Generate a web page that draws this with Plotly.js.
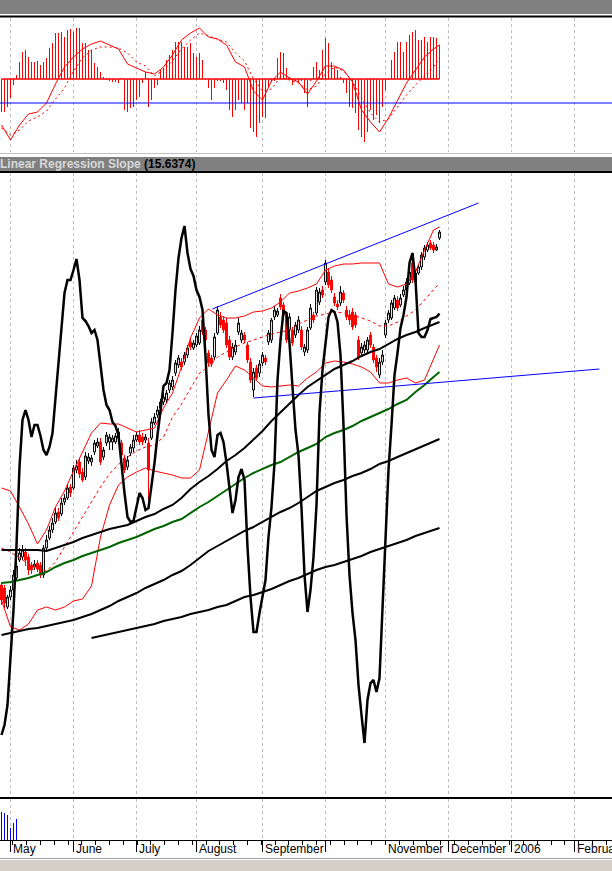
<!DOCTYPE html>
<html>
<head>
<meta charset="utf-8">
<script src="https://cdn.plot.ly/plotly-3.0.1.min.js"></script>
<style>
html,body{margin:0;padding:0;background:#fff;}
#chart{width:612px;height:871px;}
</style>
</head>
<body>
<div id="chart"></div>
<script>
// ---------------- DATA ----------------
// Month starts (bar index) and their axis labels
const monthStarts = [3, 24, 45, 65, 87, 108, 128, 149, 170, 191];
const monthLabels = ['May', 'June', 'July', 'August', 'September', '', 'November', 'December', '2006', 'February'];

// Daily candles (price units)
const open = [415,412,393,403,410,422,440,443,448,443,435,433,437,435,425,452,462,470,478,488,486,498,502,513,512,530,538,528,523,539,538,548,554,558,543,557,558,558,558,562,557,542,533,547,552,560,565,563,560,557,562,577,585,592,598,600,610,613,627,635,638,638,645,658,652,655,657,680,670,647,642,643,667,683,680,677,660,643,648,668,660,665,655,638,610,632,627,637,642,658,660,683,685,702,695,685,670,670,665,670,670,648,650,672,685,687,698,710,718,728,720,703,696,697,707,690,685,688,685,660,647,650,650,665,653,642,625,638,665,680,682,692,700,695,705,710,717,737,718,727,733,743,750,757,755,750,762];
const high = [418,415,405,414,430,440,452,455,452,446,438,440,440,438,455,465,474,482,492,492,502,506,516,516,535,540,542,532,548,547,545,560,562,562,553,568,566,565,567,572,560,545,544,556,565,568,570,567,566,562,582,587,594,601,607,610,620,624,640,645,642,648,655,662,660,667,674,684,673,650,645,667,694,688,684,682,664,657,660,682,670,668,658,642,632,635,640,648,645,670,682,694,692,706,698,688,687,673,678,684,674,656,673,696,688,713,712,714,740,732,724,707,700,714,710,694,690,692,688,664,657,659,663,668,656,645,642,650,680,690,700,705,704,706,714,722,732,742,730,736,748,755,758,760,758,756,770];
const low = [395,392,391,400,408,420,438,440,434,425,426,430,428,422,422,448,460,467,476,479,484,495,500,503,510,527,522,518,520,536,534,545,552,535,540,554,550,550,556,560,542,527,530,544,548,558,555,555,557,500,560,575,582,590,595,597,607,610,624,632,630,635,642,650,650,653,655,665,655,634,633,640,665,672,667,652,640,640,645,665,657,657,637,617,603,620,623,634,635,655,657,680,683,690,682,657,667,654,662,667,650,644,647,670,677,685,695,702,715,712,707,694,690,694,697,680,675,670,672,640,644,647,647,652,637,628,622,635,662,677,680,690,689,693,703,708,715,717,715,725,730,740,748,750,747,749,760];
const close = [400,397,403,410,425,434,447,450,440,430,430,436,431,425,452,460,470,477,487,482,497,502,512,507,532,534,526,520,544,543,542,557,558,538,550,565,563,562,564,568,545,530,540,553,560,565,558,558,563,530,578,583,590,598,603,607,617,620,637,642,633,645,652,653,657,664,670,668,660,637,636,663,690,675,670,655,643,653,655,677,667,660,640,620,628,622,636,645,638,667,680,690,689,693,685,660,683,657,675,680,653,653,670,692,680,710,708,705,737,715,710,697,693,708,700,683,680,673,675,642,653,655,660,655,640,633,638,645,677,687,697,702,692,702,710,718,728,720,727,733,745,752,755,752,750,753,768];

// Linear Regression Slope, one value per bar
const lrSlope = [-26.5,-25.5,-23.5,-18.5,-14.0,-7.5,0.3,5.0,6.0,5.0,3.3,4.5,4.5,3.4,2.0,1.5,2.3,3.7,7.0,11.0,14.3,17.7,19.0,19.0,20.0,21.1,19.0,15.2,14.9,14.4,13.7,14.0,13.0,10.5,8.0,6.5,6.0,4.8,4.4,3.5,0.3,-2.3,-4.7,-5.2,-5.1,-3.7,-2.3,-2.8,-4.0,-3.8,-1.7,0.7,3.5,5.8,8.4,8.7,10.0,13.7,18.0,21.2,23.2,24.4,21.7,20.1,19.4,18.0,17.3,16.0,11.4,5.5,2.0,1.3,3.5,3.7,2.8,0.7,-2.0,-4.3,-3.0,-0.7,0.1,-1.0,-7.7,-12.7,-16.2,-16.2,-14.3,-12.8,-11.0,-6.7,-3.7,0.7,9.0,13.0,15.9,15.7,12.7,8.3,4.0,1.5,-3.8,-10.5,-14.2,-12.0,-8.7,-3.5,5.7,10.0,13.0,15.3,16.0,15.8,14.8,11.5,4.5,-4.5,-10.5,-14.3,-17.0,-21.5,-24.5,-27.3,-23.0,-21.3,-21.0,-22.2,-20.8,-14.3,-7.7,0.0,4.5,9.5,11.7,14.2,15.5,17.3,20.7,21.7,19.0,13.7,13.3,13.3,14.0,15.1,15.2,15.3,15.6374];

// MACD histogram, one value per bar
const macdHist = [-3.3,-3.3,-2.8,-1.9,-0.6,0.4,1.7,2.7,2.9,2.2,1.7,1.7,1.8,1.4,1.7,2.1,3.1,3.6,4.6,4.6,4.7,4.2,4.9,5.0,4.7,5.1,5.1,3.6,3.6,2.9,2.9,1.6,1.2,0.7,0.2,-0.1,-0.2,-0.3,-0.3,-0.4,0.1,-3.1,-3.3,-2.9,-2.8,-2.1,-1.8,-0.4,0.7,-2.8,-2.1,-0.9,-0.6,0.9,1.1,1.9,2.4,2.9,3.7,3.7,3.7,3.2,3.2,3.6,2.6,2.2,2.6,1.9,-0.1,-0.9,-2.1,-0.9,-0.2,-0.2,-0.4,-1.1,-3.1,-3.8,-3.1,-2.1,-2.4,-3.1,-2.4,-4.9,-5.3,-5.8,-4.4,-3.8,-3.9,-0.8,-0.3,-0.2,2.1,2.7,2.6,1.1,0.2,-0.6,-0.2,-0.4,-0.2,-1.4,-2.8,-0.2,1.2,1.7,0.9,2.9,4.1,3.6,1.7,1.2,0.9,0.2,-0.4,-1.4,-2.8,-2.9,-3.4,-5.1,-5.8,-6.3,-5.3,-3.1,-4.1,-3.6,-4.4,-2.8,-1.1,-0.1,1.9,2.7,3.7,3.7,2.7,3.7,4.4,4.7,4.9,3.9,3.9,4.2,3.7,4.2,4.2,4.1,3.4];
const macdLevel = -2.4;

// Volume (only the first bars carry volume)
const volume = [28, 27, 25, 12, 17, 21];

// Smooth lines sampled every third bar
const lineBars = [0,3,6,9,12,15,18,21,24,27,30,33,36,39,42,45,48,51,54,57,60,63,66,69,72,75,78,81,84,87,90,93,96,99,102,105,108,111,114,117,120,123,126,129,132,135,138,141,144,146];
const macdMain = [-4.6,-6.1,-4.6,-3.5,-3.3,-2.4,-0.5,1.2,2.2,3.0,3.5,3.8,3.4,3.0,1.5,1.1,0.7,0.5,1.2,2.4,3.9,4.6,5.1,4.2,4.0,3.4,1.7,1.2,-1.2,-2.1,-0.2,0.7,0.1,-0.3,-1.5,-0.2,1.3,1.3,0.9,-0.3,-3.1,-4.3,-5.3,-3.9,-2.1,-0.4,0.9,2.2,3.0,3.4];
const macdSignal = [-4.9,-5.6,-5.1,-4.2,-3.8,-3.2,-2.0,-0.9,0.8,2.1,2.9,3.2,3.2,3.1,2.6,1.7,1.3,0.3,0.9,1.8,3.0,3.9,4.6,4.3,4.0,3.7,2.6,1.8,0.0,-1.2,-1.0,0.2,-0.1,-0.4,-1.1,-0.7,0.5,1.2,0.8,-0.2,-1.9,-3.4,-4.3,-4.0,-2.8,-1.6,-0.6,0.3,1.2,2.1];
const bbUpper = [512,509,493,476,456,470,493,509,529,548,567,577,576,576,572,568,570,572,592,607,633,662,682,691,685,682,682,684,688,689,692,698,707,709,712,716,730,734,736,736,737,737,737,716,713,716,728,750,770,773];
const bbMiddle = [452,448,442,436,431,429,438,453,468,483,498,513,526,536,543,549,553,555,563,583,596,611,627,633,643,648,653,657,660,663,666,668,670,676,680,684,686,688,687,685,682,679,674,674,678,684,690,700,710,717];
const bbLower = [400,373,370,376,390,393,390,393,399,401,414,463,495,515,523,528,532,529,527,525,522,522,530,570,607,620,634,630,622,614,613,614,615,614,622,628,637,639,638,636,633,628,617,617,620,622,617,620,642,655];
const maFast = [450,450,450,450,450,449,452,455,458,462,465,468,471,473,475,479,483,486,491,495,502,511,518,524,531,539,545,552,560,569,579,588,597,605,613,619,625,631,635,639,644,648,651,656,661,665,668,672,676,678];
const maGreen = [417,418,420,422,425,428,433,437,440,444,447,450,453,457,460,463,467,471,474,478,481,487,493,498,504,510,516,522,527,531,535,538,543,548,552,556,563,567,570,574,579,583,587,591,596,600,608,615,623,628];
const maSlow = [365,367,369,371,372,374,376,378,380,383,386,390,394,399,403,407,412,416,420,425,429,435,442,449,454,459,464,469,473,478,483,488,492,497,503,509,513,517,520,524,527,531,536,539,543,547,551,555,559,561];
const maSlowest = [null,null,null,null,null,null,null,null,null,null,362,364,366,368,370,372,374,376,379,381,383,386,388,390,393,395,399,403,405,408,411,415,419,422,426,430,433,435,438,441,444,448,451,454,457,460,464,467,470,472];

// Hand-drawn trend lines [bar, price]
const upperTrendX = [70.3, 159], upperTrendY = [691, 797];
const lowerTrendX = [84, 199.3], lowerTrendY = [602, 631];

// ---------------- CHART ----------------
const H = 871;
const py = p => 1 - p / H;            // pixel row -> paper fraction
const bars = close.map((_, i) => i);
const FONT = 'Liberation Sans, Arial, sans-serif';

// histogram-style stems (base -> value) drawn as one line trace with breaks
function stems(xs, ys) {
  const sx = [], sy = [];
  ys.forEach((v, i) => { sx.push(xs[i], xs[i], null); sy.push(0, v, null); });
  return {x: sx, y: sy};
}
const histStems = stems(bars, macdHist);
const volStems = stems(bars, volume);

const traces = [
  // MACD panel
  {type:'scatter', mode:'lines', x:histStems.x, y:histStems.y, xaxis:'x', yaxis:'y', line:{color:'#ff0000', width:1}, connectgaps:false},
  {type:'scatter', mode:'lines', x:[bars[0], bars[bars.length-1]], y:[0,0], xaxis:'x', yaxis:'y', line:{color:'#ff0000', width:1.5}},
  {type:'scatter', mode:'lines', x:lineBars, y:macdMain, xaxis:'x', yaxis:'y', line:{color:'#ff0000', width:1}},
  {type:'scatter', mode:'lines', x:lineBars, y:macdSignal, xaxis:'x', yaxis:'y', line:{color:'#ff0000', width:1, dash:'2px,3px'}},
  // main panel: bands
  {type:'scatter', mode:'lines', x:lineBars, y:bbUpper, xaxis:'x', yaxis:'y2', line:{color:'#ff0000', width:1}},
  {type:'scatter', mode:'lines', x:lineBars, y:bbMiddle, xaxis:'x', yaxis:'y2', line:{color:'#ff0000', width:1, dash:'3px,3px'}},
  {type:'scatter', mode:'lines', x:lineBars, y:bbLower, xaxis:'x', yaxis:'y2', line:{color:'#ff0000', width:1}},
  // candles
  {type:'candlestick', x:bars, open:open, high:high, low:low, close:close, xaxis:'x', yaxis:'y2',
   increasing:{line:{color:'#000000', width:1}, fillcolor:'#ffffff'},
   decreasing:{line:{color:'#ff0000', width:1}, fillcolor:'#ff0000'}, whiskerwidth:0},
  // moving averages
  {type:'scatter', mode:'lines', x:lineBars, y:maSlowest, xaxis:'x', yaxis:'y2', line:{color:'#000000', width:2}},
  {type:'scatter', mode:'lines', x:lineBars, y:maSlow, xaxis:'x', yaxis:'y2', line:{color:'#000000', width:2}},
  {type:'scatter', mode:'lines', x:lineBars, y:maGreen, xaxis:'x', yaxis:'y2', line:{color:'#006400', width:2}},
  {type:'scatter', mode:'lines', x:lineBars, y:maFast, xaxis:'x', yaxis:'y2', line:{color:'#000000', width:2}},
  // trend lines
  {type:'scatter', mode:'lines', x:upperTrendX, y:upperTrendY, xaxis:'x', yaxis:'y2', line:{color:'#0000ff', width:1}},
  {type:'scatter', mode:'lines', x:lowerTrendX, y:lowerTrendY, xaxis:'x', yaxis:'y2', line:{color:'#0000ff', width:1}},
  // linear regression slope
  {type:'scatter', mode:'lines', x:bars, y:lrSlope, xaxis:'x', yaxis:'y3', line:{color:'#000000', width:2.5}},
  // volume
  {type:'scatter', mode:'lines', x:volStems.x, y:volStems.y, xaxis:'x', yaxis:'y4', line:{color:'#0000ff', width:1}, connectgaps:false}
];

const hideY = {showgrid:false, zeroline:false, showticklabels:false, ticks:'', showline:false, fixedrange:true};

const annotations = [
  {xref:'paper', yref:'paper', x:0, y:py(164.5), xanchor:'left', yanchor:'middle', xshift:-2, showarrow:false,
   text:'<b>Linear Regression Slope <span style="color:#000000">(15.6374)</span></b>',
   font:{family:FONT, size:12, color:'#d8d8d8'}}
];
monthStarts.forEach((m, i) => {
  if (monthLabels[i]) annotations.push({xref:'x', yref:'paper', x:m, y:py(840), xanchor:'left', yanchor:'top',
    showarrow:false, text:monthLabels[i], font:{family:FONT, size:12, color:'#000000'}, xshift:0});
});

const shapes = [
  {type:'rect', xref:'paper', yref:'paper', x0:0, x1:1, y0:py(14), y1:py(0), fillcolor:'#808080', line:{width:0}},
  {type:'line', xref:'paper', yref:'paper', x0:0, x1:1, y0:py(16.5), y1:py(16.5), line:{color:'#000000', width:2}},
  {type:'line', xref:'paper', yref:'y', x0:0, x1:1, y0:macdLevel, y1:macdLevel, line:{color:'#0000ff', width:1.2}},
  {type:'line', xref:'paper', yref:'paper', x0:0, x1:1, y0:py(153.5), y1:py(153.5), line:{color:'#c0c0c0', width:1}},
  {type:'rect', xref:'paper', yref:'paper', x0:0, x1:1, y0:py(171), y1:py(157), fillcolor:'#808080', line:{width:0}},
  {type:'line', xref:'paper', yref:'paper', x0:0, x1:1, y0:py(172), y1:py(172), line:{color:'#000000', width:2}},
  {type:'line', xref:'paper', yref:'paper', x0:0, x1:1, y0:py(798), y1:py(798), line:{color:'#000000', width:2}},
  {type:'line', xref:'paper', yref:'paper', x0:0, x1:1, y0:py(858.5), y1:py(858.5), line:{color:'#a0a0a0', width:1}},
  {type:'rect', xref:'paper', yref:'paper', x0:0, x1:1, y0:py(871), y1:py(860), fillcolor:'#d4d0c8', line:{width:0}}
];

const layout = {
  width:612, height:871, margin:{l:0, r:0, t:0, b:0}, autosize:false, showlegend:false,
  paper_bgcolor:'#ffffff', plot_bgcolor:'#ffffff', boxgap:0.1,
  xaxis:{anchor:'y4', domain:[0,1], range:[-0.5, 203.5], fixedrange:true,
    tickmode:'array', tickvals:monthStarts, ticktext:monthStarts.map(() => ''), showticklabels:false,
    ticks:'outside', ticklen:11, tickcolor:'#000000', tickwidth:1,
    showline:true, linecolor:'#000000', linewidth:1, zeroline:false,
    showgrid:true, gridcolor:'#bdbdbd', gridwidth:1, griddash:'3px,3px',
    minor:{tickmode:'linear', tick0:8.4, dtick:4.6, ticks:'outside', ticklen:4, tickcolor:'#000000', showgrid:false},
    rangeslider:{visible:false}},
  yaxis: Object.assign({domain:[py(152), py(18)], range:[-7.3, 6.1]}, hideY),
  yaxis2: Object.assign({domain:[py(797), py(173)], range:[203, 827]}, hideY),
  yaxis3: Object.assign({overlaying:'y2', range:[-32.7, 29.7]}, hideY),
  yaxis4: Object.assign({domain:[py(840), py(799)], range:[0, 41]}, hideY),
  annotations: annotations,
  shapes: shapes,
  font:{family:FONT}
};

Plotly.newPlot('chart', traces, layout, {staticPlot:true, displayModeBar:false});
</script>
</body>
</html>
